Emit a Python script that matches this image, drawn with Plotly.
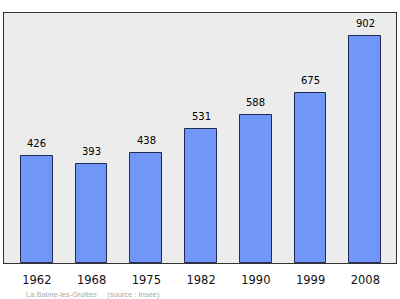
import plotly.graph_objects as go

years = ["1962", "1968", "1975", "1982", "1990", "1999", "2008"]
population = [426, 393, 438, 531, 588, 675, 902]
caption = "La Balme-les-Grottes     (source : Insee)"

xs = list(range(len(years)))

fig = go.Figure()
fig.add_trace(go.Bar(
    x=xs,
    y=population,
    width=0.58,
    marker=dict(color="#7096f8", line=dict(color="#1f2a55", width=1)),
))

annotations = [dict(
    x=x, y=v, xref="x", yref="y", text=str(v), showarrow=False,
    yanchor="bottom", yshift=5,
    font=dict(family="DejaVu Sans", size=10, color="#000"),
) for x, v in zip(xs, population)]
annotations.append(dict(
    text=caption, xref="paper", yref="paper",
    x=0.05, y=-0.1, xanchor="left", yanchor="top",
    showarrow=False,
    font=dict(family="Liberation Sans", size=7.5, color="#aaa"),
))

fig.update_layout(
    width=400, height=299,
    margin=dict(l=4, r=4, t=13, b=36),
    paper_bgcolor="white",
    plot_bgcolor="#ececec",
    showlegend=False,
    bargap=0,
    xaxis=dict(
        range=[-0.6, 6.56],
        tickmode="array",
        tickvals=xs,
        ticktext=years,
        showgrid=False, zeroline=False,
        showline=True, linecolor="#333", linewidth=1, mirror=True,
        ticks="", ticklabelstandoff=6,
        tickfont=dict(family="DejaVu Sans", size=11.5, color="#111"),
    ),
    yaxis=dict(
        range=[0, 993],
        showgrid=False, zeroline=False,
        showticklabels=False, ticks="",
        showline=True, linecolor="#333", linewidth=1, mirror=True,
    ),
    annotations=annotations,
)

fig.write_html("out.html")
